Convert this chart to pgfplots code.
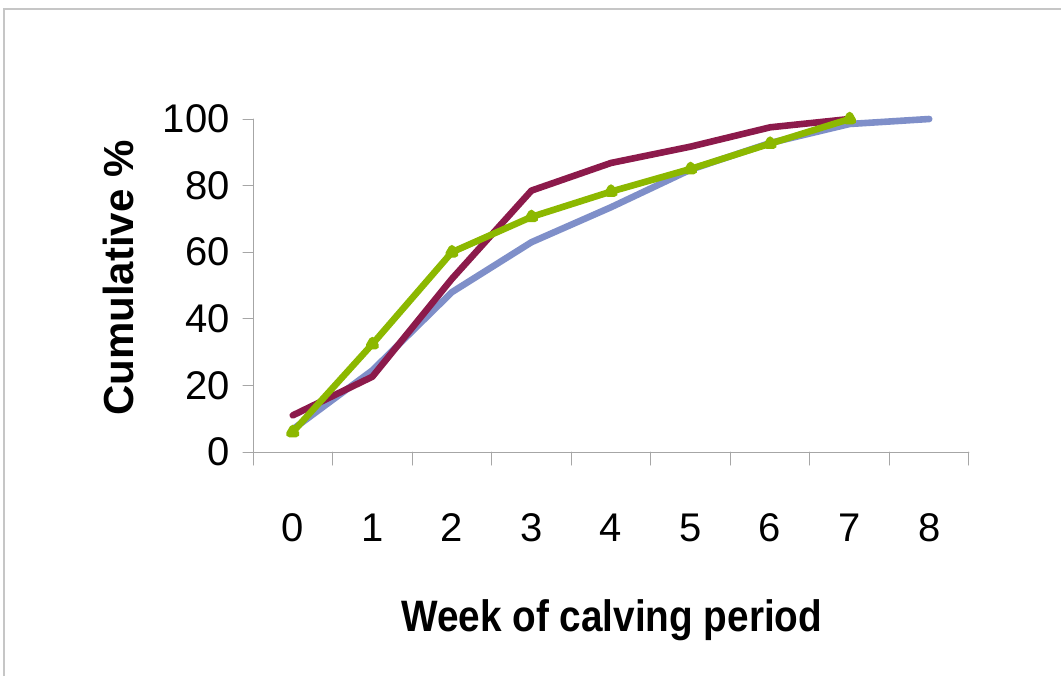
\documentclass[border=0pt]{standalone}
\usepackage{pgfplots}
\pgfplotsset{compat=1.18}
\usepackage{fontspec}
\setmainfont{Liberation Sans}
\definecolor{cblue}{HTML}{7F8FC9}
\definecolor{cred}{HTML}{8C1A4B}
\definecolor{cgreen}{HTML}{8CB800}
\begin{document}
\begin{tikzpicture}[x=1pt,y=1pt]
\path[use as bounding box] (0,0) rectangle (530.5,338);
\fill[white] (0,0) rectangle (530.5,338);
\draw[gray!45, line width=0.6pt] (2,0) -- (2,333.5) -- (530.5,333.5);
\begin{axis}[
  at={(126.5pt,112pt)}, anchor=south west,
  scale only axis, width=358pt, height=166.5pt,
  xmin=-0.5, xmax=8.5, ymin=0, ymax=100,
  axis x line=bottom, axis y line=left,
  axis line style={-, gray!70, line width=0.5pt},
  xtick={0,...,8}, xticklabels={0,1,2,3,4,5,6,7,8},
  minor xtick={-0.5,0.5,...,8.5},
  ytick={0,20,...,100},
  tick align=outside,
  major x tick style={draw=none},
  minor x tick style={gray!70, line width=0.5pt},
  minor tick length=6.5pt,
  y tick style={gray!70, line width=0.5pt},
  major tick length=5pt,
  /pgf/number format/assume math mode=true,
  xticklabel style={font=\fontsize{20}{24}\selectfont, anchor=center, yshift=-33pt},
  yticklabel style={font=\fontsize{20}{24}\selectfont, anchor=east, inner sep=0pt, xshift=-6.5pt},
  xlabel={\scalebox{0.88}[1]{\bfseries\fontsize{22}{26}\selectfont Week of calving period}},
  xlabel style={at={(rel axis cs:0.501,-0.5405)}, anchor=base, inner sep=0pt},
  ylabel={\bfseries\fontsize{21}{25}\selectfont Cumulative \%},
  ylabel style={at={(rel axis cs:-0.1885,0.5225)}, anchor=center, rotate=0, inner sep=0pt},
  clip=false,
  line join=round, line cap=round,
]
\addplot[cblue, line width=3.3pt] coordinates {(0,6.8) (1,24.5) (2,48) (3,63) (4,73.5) (5,84.8) (6,92.8) (7,98.5) (8,100)};
\addplot[cred, line width=3.3pt] coordinates {(0,11) (1,22.6) (2,52) (3,78.5) (4,86.8) (5,91.7) (6,97.5) (7,100)};
\addplot[cgreen, line width=3.3pt, mark=triangle*, mark size=2pt] coordinates {(0,6) (1,32.4) (2,60) (3,70.6) (4,78.2) (5,85) (6,92.6) (7,100)};
\end{axis}
\end{tikzpicture}
\end{document}
